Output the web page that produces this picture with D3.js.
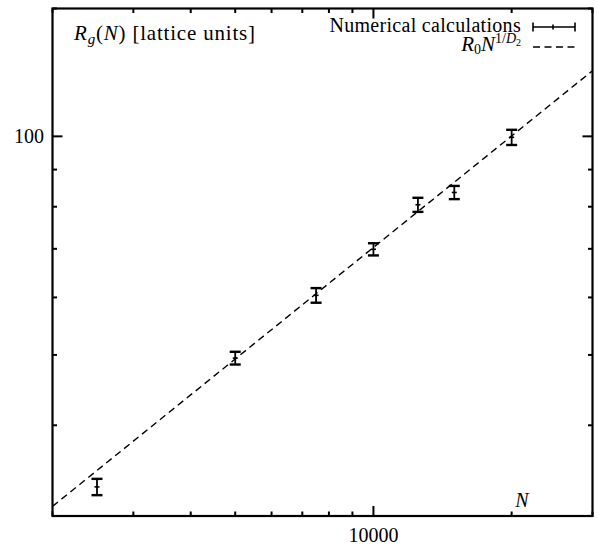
<!DOCTYPE html>
<html>
<head>
<meta charset="utf-8">
<script src="https://cdn.jsdelivr.net/npm/d3@7"></script>
<style>
  html, body { margin: 0; padding: 0; background: #fff; }
  svg { display: block; }
</style>
</head>
<body>
<svg id="chart" width="597" height="546"></svg>
<script>
// Radius of gyration vs chain length N (log-log)
const chainLength = [2500, 5000, 7500, 10000, 12500, 15000, 20000];
const radius      = [32.9, 49.5, 60.4, 69.9, 80.5, 83.7, 99.7];
const radiusErr   = [0.85, 1.0, 1.4, 1.35, 1.8, 1.75, 2.4];

// Power-law fit R0 * N^(1/D2)
const R0 = 0.64;
const D2 = 1.96;

const xTicks = [2000, 3000, 4000, 5000, 6000, 7000, 8000, 9000, 10000, 20000, 30000];
const xMajor = [10000];
const yTicks = [30, 40, 50, 60, 70, 80, 90, 100, 150];
const yMajor = [100];

const FONT = "'Liberation Serif', 'Times New Roman', Times, 'DejaVu Serif', serif";

const svg = d3.select("#chart");
const x = d3.scaleLog().domain([2000, 30000]).range([52.5, 592.5]);
const y = d3.scaleLog().domain([30, 150]).range([516, 8.5]);

const [x0, x1] = x.range();
const [yb, yt] = y.range();

// ticks drawn inward on all four sides
const tickLen = v => (xMajor.includes(v) || yMajor.includes(v)) ? 10 : 4.5;
const tg = svg.append("g").attr("stroke", "#000").attr("stroke-width", 2);
xTicks.forEach(v => {
  const px = x(v);
  tg.append("line").attr("x1", px).attr("x2", px).attr("y1", yb).attr("y2", yb - tickLen(v));
  tg.append("line").attr("x1", px).attr("x2", px).attr("y1", yt).attr("y2", yt + tickLen(v));
});
yTicks.forEach(v => {
  const py = y(v);
  tg.append("line").attr("x1", x0).attr("x2", x0 + tickLen(v)).attr("y1", py).attr("y2", py);
  tg.append("line").attr("x1", x1).attr("x2", x1 - tickLen(v)).attr("y1", py).attr("y2", py);
});

// frame
svg.append("rect")
  .attr("x", x0).attr("y", yt)
  .attr("width", x1 - x0).attr("height", yb - yt)
  .attr("fill", "none").attr("stroke", "#000").attr("stroke-width", 2.2);

const txt = (sel) => sel.append("text").attr("font-family", FONT).attr("fill", "#000");

// tick labels
txt(svg).attr("x", x(10000)).attr("y", 542)
  .attr("text-anchor", "middle").attr("font-size", 20).text("10000");
txt(svg).attr("x", 44).attr("y", y(100) + 7)
  .attr("text-anchor", "end").attr("font-size", 20).text("100");

// fit line
const fitN = x.domain();
const fitLine = d3.line().x(d => x(d)).y(d => y(R0 * Math.pow(d, 1 / D2)));
svg.append("path")
  .datum(fitN)
  .attr("d", fitLine)
  .attr("fill", "none").attr("stroke", "#000")
  .attr("stroke-width", 1.4).attr("stroke-dasharray", "7,4.5");

// error bars
const capW = 5.5;
const eb = svg.append("g").attr("stroke", "#000");
chainLength.forEach((n, i) => {
  const px = x(n);
  const top = y(radius[i] + radiusErr[i]);
  const bot = y(radius[i] - radiusErr[i]);
  const mid = y(radius[i]);
  eb.append("line").attr("x1", px).attr("x2", px).attr("y1", top).attr("y2", bot).attr("stroke-width", 1.8);
  eb.append("line").attr("x1", px - capW).attr("x2", px + capW).attr("y1", top).attr("y2", top).attr("stroke-width", 2.4);
  eb.append("line").attr("x1", px - capW).attr("x2", px + capW).attr("y1", bot).attr("y2", bot).attr("stroke-width", 2.4);
  eb.append("line").attr("x1", px - 2.5).attr("x2", px + 2.5).attr("y1", mid).attr("y2", mid).attr("stroke-width", 1.6);
});

// axis titles
const yLab = txt(svg).attr("x", 74).attr("y", 40).attr("font-size", 21).attr("letter-spacing", 0.8);
yLab.append("tspan").attr("font-style", "italic").text("R");
yLab.append("tspan").attr("font-style", "italic").attr("font-size", 15).attr("dy", 4).text("g");
yLab.append("tspan").attr("dy", -4).text("(");
yLab.append("tspan").attr("font-style", "italic").text("N");
yLab.append("tspan").text(") [lattice units]");

txt(svg).attr("x", 522).attr("y", 507)
  .attr("text-anchor", "middle").attr("font-size", 20).attr("font-style", "italic").text("N");

// legend
const lx0 = 533, lx1 = 575, ly1 = 27, ly2 = 47;
txt(svg).attr("x", 521).attr("y", 32).attr("text-anchor", "end")
  .attr("font-size", 20).attr("letter-spacing", 0.3).text("Numerical calculations");
const lg = svg.append("g").attr("stroke", "#000");
lg.append("line").attr("x1", lx0).attr("x2", lx1).attr("y1", ly1).attr("y2", ly1).attr("stroke-width", 1.6);
lg.append("line").attr("x1", lx0).attr("x2", lx0).attr("y1", ly1 - 4.5).attr("y2", ly1 + 4.5).attr("stroke-width", 1.6);
lg.append("line").attr("x1", lx1).attr("x2", lx1).attr("y1", ly1 - 4.5).attr("y2", ly1 + 4.5).attr("stroke-width", 1.6);
lg.append("line").attr("x1", 553).attr("x2", 553).attr("y1", ly1 - 2.5).attr("y2", ly1 + 2.5).attr("stroke-width", 1.6);
lg.append("line").attr("x1", lx0).attr("x2", lx1).attr("y1", ly2).attr("y2", ly2)
  .attr("stroke-width", 1.4).attr("stroke-dasharray", "7,4.5");

const fl = txt(svg).attr("x", 521).attr("y", 51).attr("text-anchor", "end").attr("font-size", 21);
fl.append("tspan").attr("font-style", "italic").text("R");
fl.append("tspan").attr("font-size", 14).attr("dy", 3).text("0");
fl.append("tspan").attr("font-style", "italic").attr("dy", -3).text("N");
fl.append("tspan").attr("font-size", 14).attr("dy", -8).text("1/");
fl.append("tspan").attr("font-size", 14).attr("font-style", "italic").text("D");
fl.append("tspan").attr("font-size", 10).attr("dy", 3).text("2");
</script>
</body>
</html>
